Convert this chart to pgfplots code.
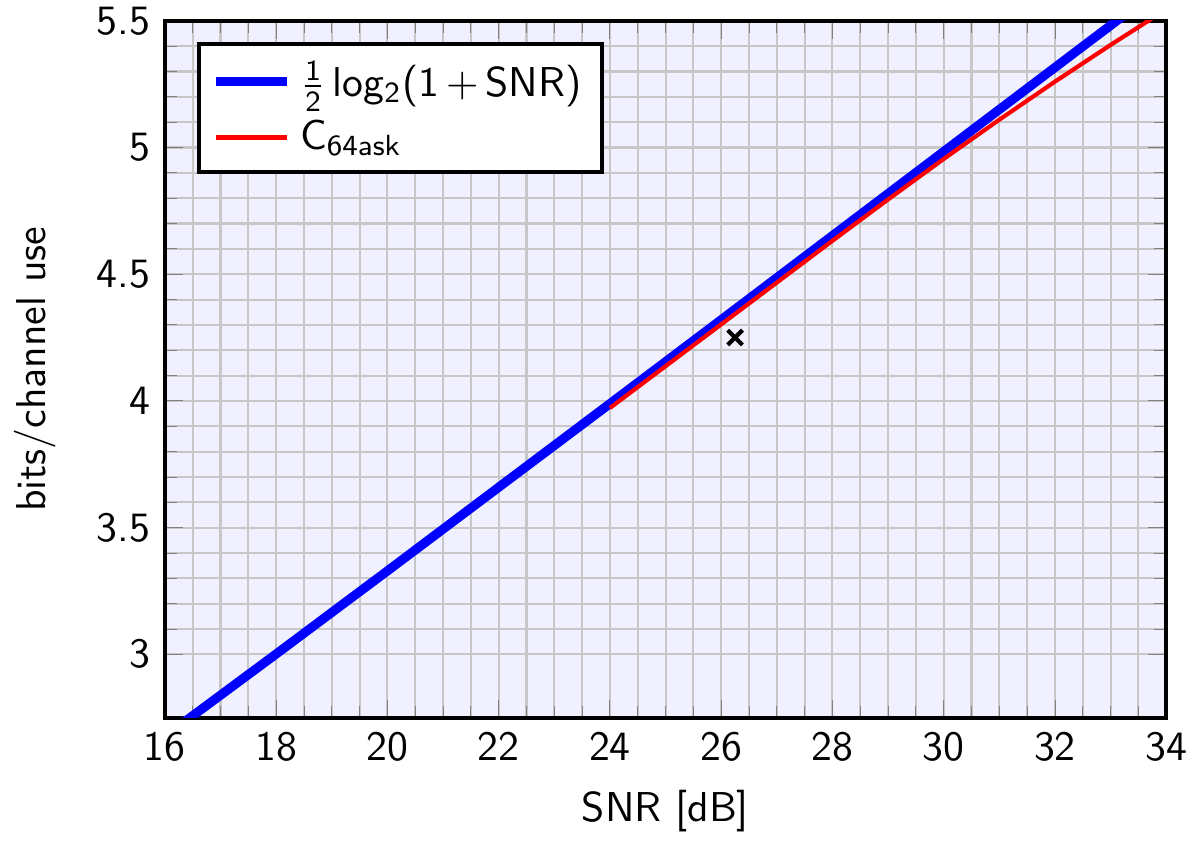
\documentclass[border=0pt]{standalone}
\usepackage{amsmath}
\usepackage{pgfplots}
\pgfplotsset{compat=1.18}
\renewcommand\familydefault{\sfdefault}
\begin{document}
\begin{tikzpicture}[font=\sffamily]
\begin{axis}[
  scale only axis,
  width=240pt, height=167pt,
  xmin=16, xmax=34, ymin=2.75, ymax=5.5,
  xtick={16,18,...,34},
  ytick={3,3.5,4,4.5,5,5.5},
  /pgf/number format/assume math mode=true,
  yticklabel style={inner ysep=0pt},
  minor x tick num=3,
  minor y tick num=4,
  grid=both,
  major grid style={draw=black!22, line width=0.5pt},
  minor grid style={draw=black!22, line width=0.5pt},
  axis line style={line width=1pt},
  axis background/.style={fill=blue!6},
  xlabel={SNR [dB]},
  ylabel={bits/channel use},
  ylabel shift=3pt,
  legend cell align=left,
  legend style={at={(0.032,0.97)}, anchor=north west, draw=black, line width=1pt, fill=white, inner xsep=3pt, inner ysep=2pt},
  clip=true,
]
\addplot[blue, line width=2.2pt] coordinates {
(16,2.676) (18,3.001) (20,3.329) (22,3.659) (24,3.989) (26,4.320) (28,4.652) (30,4.984) (32,5.316) (34,5.648)};
\addlegendentry{$\frac{\text{1}}{\text{2}}$\,log$_{\text{2}}$(1\,$+$\,SNR)}
\addplot[red, line width=1pt] coordinates {
(24,3.972) (25,4.137) (26,4.302) (27,4.467) (28,4.632) (29,4.795) (30,4.955) (31,5.110) (32,5.260) (33,5.405) (34,5.545)};
\addlegendentry{C$_{\text{64ask}}$}
\addplot[only marks, black, mark=x, mark size=2.5pt, line width=1pt, forget plot] coordinates {(26.25,4.25)};
\end{axis}
\path ([yshift=5pt]current axis.north);
\end{tikzpicture}
\end{document}
